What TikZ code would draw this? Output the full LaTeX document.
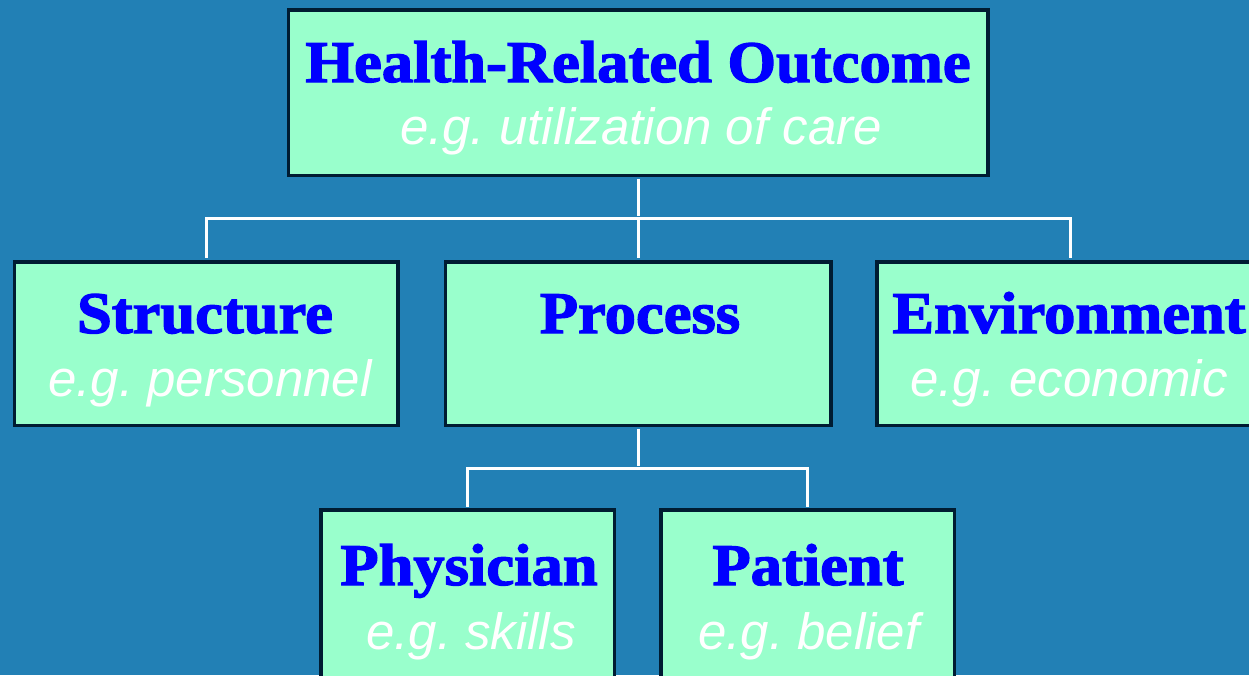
\documentclass[tikz,border=0pt]{standalone}
\usepackage{fontspec}
\setmainfont{Liberation Serif}
\setsansfont{Liberation Sans}
\newfontfamily\heavyfont{Liberation Serif}[UprightFeatures={FakeBold=2.2,FakeStretch=1.06},BoldFeatures={FakeBold=2.2,FakeStretch=1.06}]
\definecolor{bg}{RGB}{34,128,181}
\definecolor{boxfill}{RGB}{153,255,204}
\definecolor{edge}{RGB}{0,28,50}
\definecolor{titleblue}{RGB}{0,0,255}
\frenchspacing
\begin{document}
\begin{tikzpicture}[x=1pt,y=-1pt,
 box/.style={draw=edge, fill=boxfill, line width=3.5pt, rectangle, inner sep=0pt},
 ttl/.style={font=\fontsize{59}{59}\heavyfont\bfseries, text=titleblue, anchor=base, inner sep=0pt},
 sub/.style={font=\fontsize{51}{51}\selectfont\sffamily\itshape, text=white, anchor=base, inner sep=0pt},
 link/.style={draw=white, line width=3pt, shorten <=1.75pt, shorten >=1.75pt}]
\useasboundingbox (0,0) rectangle (1249,675);
\fill[bg] (0,0) rectangle (1249,675);
\clip (0,0) rectangle (1249,675);
% boxes
\node[box, minimum width=699.5pt, minimum height=165.5pt] (top) at (638,92.5) {};
\node[box, minimum width=383.5pt, minimum height=163.5pt] (structure) at (206,343.5) {};
\node[box, minimum width=385.5pt, minimum height=163.5pt] (process) at (638,343.5) {};
\node[box, minimum width=386.5pt, minimum height=163.5pt] (environment) at (1070,343.5) {};
\node[box, minimum width=293.5pt, minimum height=180pt] (physician) at (467.5,600) {};
\node[box, minimum width=293.5pt, minimum height=180pt] (patient) at (807.5,600) {};
% connectors
\coordinate (j1) at (638,218);
\coordinate (j2) at (638,468);
\draw[link] (top.south) -- (j1);
\draw[link, shorten <=0pt] (j1) -| (structure.north);
\draw[link, shorten <=0pt] (j1) -| (environment.north);
\draw[link, shorten <=0pt] (j1) -- (process.north);
\draw[link] (process.south) -- (j2);
\draw[link, shorten <=0pt] (j2) -| (physician.north);
\draw[link, shorten <=0pt] (j2) -| (patient.north);
% texts
\node[ttl] (t1) at (638,82) {Health-Related Outcome};
\node[sub] (s1) at (641,144) {e.g. utilization of care};
\node[ttl] (t2) at (205,333) {Structure};
\node[sub] (s2) at (210,396) {e.g. personnel};
\node[ttl] (t3) at (640,333) {Process};
\node[ttl] (t4) at (1069,333) {Environment};
\node[sub] (s4) at (1069,396) {e.g. economic};
\node[ttl] (t5) at (469,585) {Physician};
\node[sub] (s5) at (471,649) {e.g. skills};
\node[ttl] (t6) at (808,585) {Patient};
\node[sub] (s6) at (809,649) {e.g. belief};
\end{tikzpicture}
\end{document}
